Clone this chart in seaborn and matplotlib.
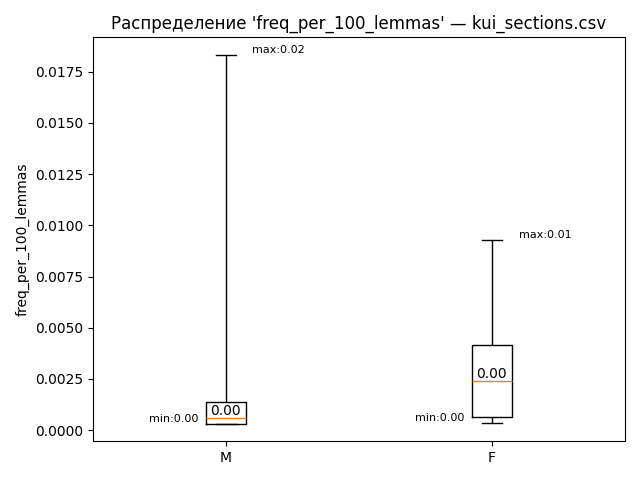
import matplotlib
matplotlib.use("Agg")
import matplotlib.pyplot as plt
import seaborn as sns
import pandas as pd

groups = ["M", "F"]
# five-number summaries: min, q1, median, q3, max
m_vals = [0.00030, 0.00030, 0.00060, 0.00140, 0.01830]
f_vals = [0.00035, 0.00065, 0.00240, 0.00415, 0.00930]

df = pd.DataFrame({
    "gender": ["M"] * len(m_vals) + ["F"] * len(f_vals),
    "freq_per_100_lemmas": m_vals + f_vals,
})

fig, ax = plt.subplots(figsize=(6.4, 4.8), dpi=100)
sns.boxplot(data=df, x="gender", y="freq_per_100_lemmas", order=groups,
            whis=(0, 100), width=0.15, fill=False, color="black",
            linewidth=1, medianprops={"color": "C1"}, ax=ax)

for i, vals in enumerate([m_vals, f_vals]):
    ax.text(i - 0.29, vals[0], f"min:{vals[0]:.2f}", fontsize=8, va="bottom")
    ax.text(i + 0.1, vals[-1], f"max:{vals[-1]:.2f}", fontsize=8, va="bottom")
    ax.text(i, vals[2], f"{vals[2]:.2f}", fontsize=10, ha="center", va="bottom")

ax.set_xlim(-0.5, 1.5)
ax.set_ylim(-0.00054, 0.01917)
ax.set_xlabel("")
ax.set_title("Распределение 'freq_per_100_lemmas' — kui_sections.csv")
fig.tight_layout()
fig.savefig("out.png")
